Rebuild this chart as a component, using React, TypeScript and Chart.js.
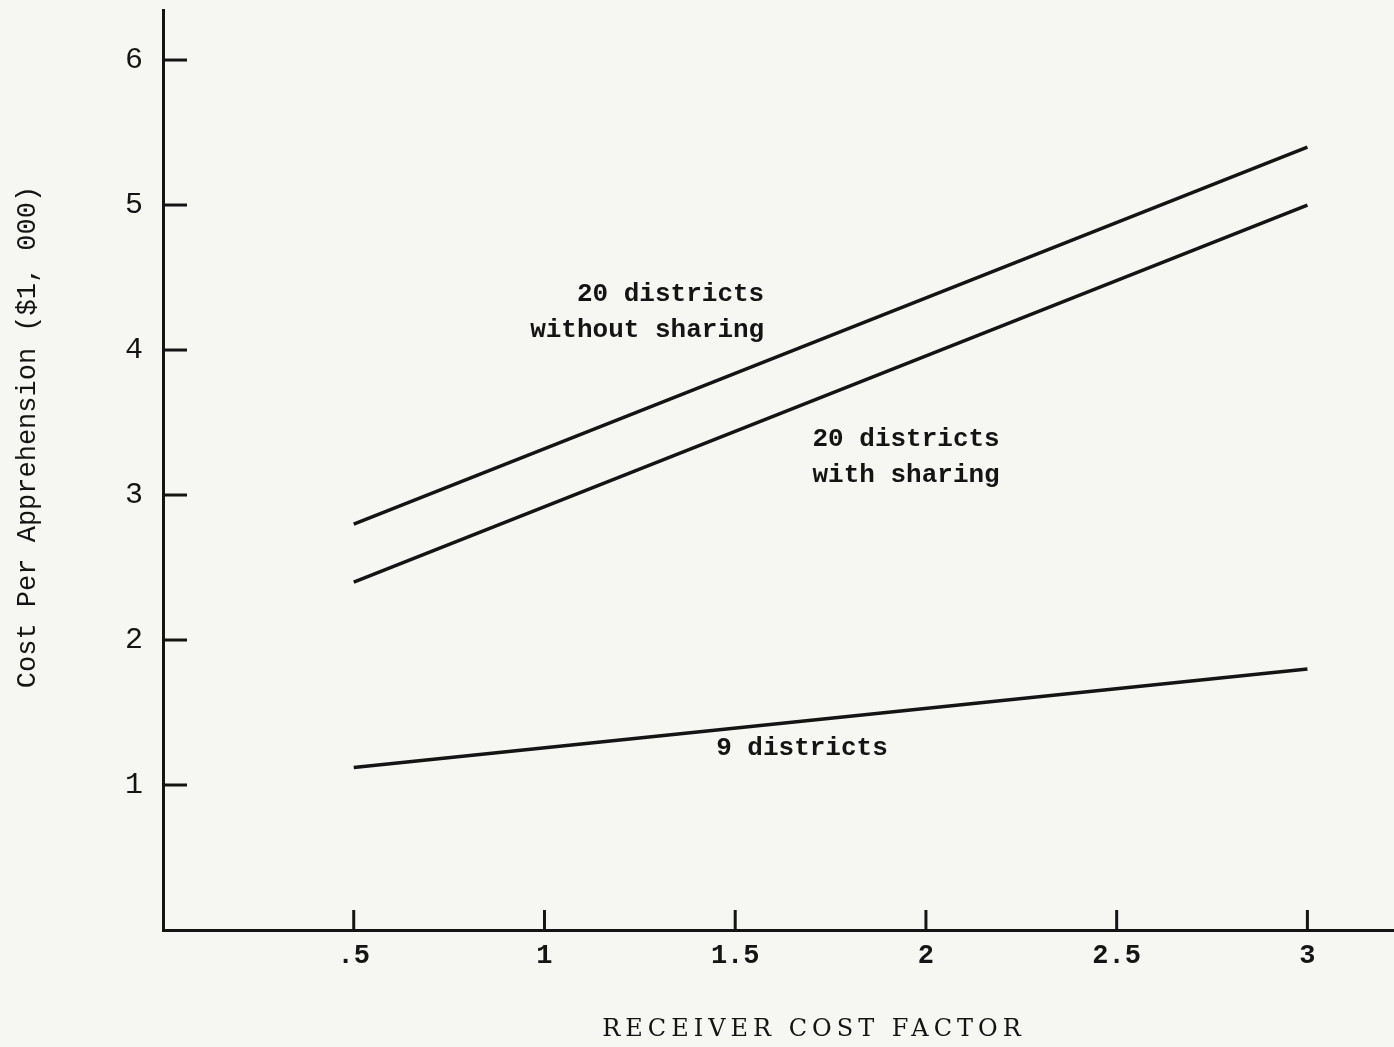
import React, { useEffect, useRef } from "react";
import { Chart, registerables } from "chart.js";

Chart.register(...registerables);

const xValues = [0.5, 3];
const withoutSharing = [2.8, 5.4];
const withSharing = [2.4, 5.0];
const nineDistricts = [1.12, 1.8];
const xTicks = [0.5, 1, 1.5, 2, 2.5, 3];
const xTickLabels = [".5", "1", "1.5", "2", "2.5", "3"];
const yTicks = [1, 2, 3, 4, 5, 6];
const yTickLabels = ["1", "2", "3", "4", "5", "6"];

const MONO = "'Liberation Mono', 'DejaVu Sans Mono', monospace";
const SERIF = "'DejaVu Serif', 'Liberation Serif', serif";
const INK = "#141414";

const annotations = [
  { lines: ["20 districts", "without sharing"], x: 1.576, y: 4.38, align: "right" as CanvasTextAlign },
  { lines: ["20 districts", "with sharing"], x: 1.948, y: 3.38, align: "center" as CanvasTextAlign },
  { lines: ["9 districts"], x: 1.675, y: 1.25, align: "center" as CanvasTextAlign },
];

const decorPlugin = {
  id: "decor",
  beforeDraw(chart: any) {
    const { ctx, width, height } = chart;
    ctx.save();
    ctx.fillStyle = "#f6f6f3";
    ctx.fillRect(0, 0, width, height);
    ctx.restore();
  },
  afterDraw(chart: any) {
    const { ctx, chartArea } = chart;
    const xs = chart.scales.x;
    const ys = chart.scales.y;
    ctx.save();
    ctx.strokeStyle = INK;
    ctx.lineWidth = 3;
    xTicks.forEach((v) => {
      const px = xs.getPixelForValue(v);
      ctx.beginPath();
      ctx.moveTo(px, chartArea.bottom);
      ctx.lineTo(px, chartArea.bottom - 20);
      ctx.stroke();
    });
    yTicks.forEach((v) => {
      const py = ys.getPixelForValue(v);
      ctx.beginPath();
      ctx.moveTo(chartArea.left, py);
      ctx.lineTo(chartArea.left + 24, py);
      ctx.stroke();
    });
    ctx.fillStyle = INK;
    ctx.font = `bold 26px ${MONO}`;
    ctx.textBaseline = "middle";
    annotations.forEach((a) => {
      const px = xs.getPixelForValue(a.x);
      const py = ys.getPixelForValue(a.y);
      ctx.textAlign = a.align;
      a.lines.forEach((t, i) => ctx.fillText(t, px, py + i * 36));
    });
    ctx.save();
    ctx.translate(28, 437);
    ctx.rotate(-Math.PI / 2);
    ctx.textAlign = "center";
    ctx.font = `27px ${MONO}`;
    ctx.fillText("Cost Per Apprehension ($1, 000)", 0, 0);
    ctx.restore();
    ctx.textAlign = "center";
    ctx.font = `500 24px ${SERIF}`;
    (ctx as any).letterSpacing = "5px";
    ctx.fillText("RECEIVER COST FACTOR", 814, 1030);
    (ctx as any).letterSpacing = "0px";
    ctx.restore();
  },
};

export default function App() {
  const ref = useRef<HTMLCanvasElement | null>(null);
  useEffect(() => {
    document.body.style.margin = "0";
    const mk = (data: number[]) => ({
      data: xValues.map((x, i) => ({ x, y: data[i] })),
      borderColor: INK,
      borderWidth: 3.5,
      pointRadius: 0,
      fill: false,
    });
    const chart = new Chart(ref.current as HTMLCanvasElement, {
      type: "line",
      data: {
        datasets: [mk(withoutSharing), mk(withSharing), mk(nineDistricts)],
      },
      options: {
        animation: false,
        responsive: false,
        layout: { padding: { top: 10, right: 0, left: 0, bottom: 0 } },
        plugins: { legend: { display: false }, tooltip: { enabled: false } },
        scales: {
          x: {
            type: "linear",
            min: 0,
            max: 3.227,
            grid: { drawOnChartArea: false, drawTicks: false },
            border: { display: true, color: INK, width: 3 },
            afterBuildTicks: (s: any) => {
              s.ticks = xTicks.map((v) => ({ value: v }));
            },
            afterFit: (s: any) => {
              s.height = 117;
              s.paddingLeft = 0;
              s.paddingRight = 0;
            },
            ticks: {
              padding: 10,
              color: INK,
              font: { family: MONO, size: 27, weight: "bold" },
              maxRotation: 0,
              autoSkip: false,
              callback: (v: any) => {
                const i = xTicks.indexOf(Number(v));
                return i >= 0 ? xTickLabels[i] : "";
              },
            },
          },
          y: {
            type: "linear",
            min: 0,
            max: 6.345,
            grid: { drawOnChartArea: false, drawTicks: false },
            border: { display: true, color: INK, width: 3 },
            afterBuildTicks: (s: any) => {
              s.ticks = yTicks.map((v) => ({ value: v }));
            },
            afterFit: (s: any) => {
              s.width = 163;
              s.paddingTop = 0;
              s.paddingBottom = 0;
            },
            ticks: {
              padding: 20,
              color: INK,
              font: { family: MONO, size: 30 },
              autoSkip: false,
              callback: (v: any) => {
                const i = yTicks.indexOf(Number(v));
                return i >= 0 ? yTickLabels[i] : "";
              },
            },
          },
        },
      },
      plugins: [decorPlugin],
    } as any);
    return () => chart.destroy();
  }, []);
  return (
    <div style={{ width: 1394, height: 1047 }}>
      <canvas ref={ref} width={1394} height={1047} style={{ display: "block" }} />
    </div>
  );
}
